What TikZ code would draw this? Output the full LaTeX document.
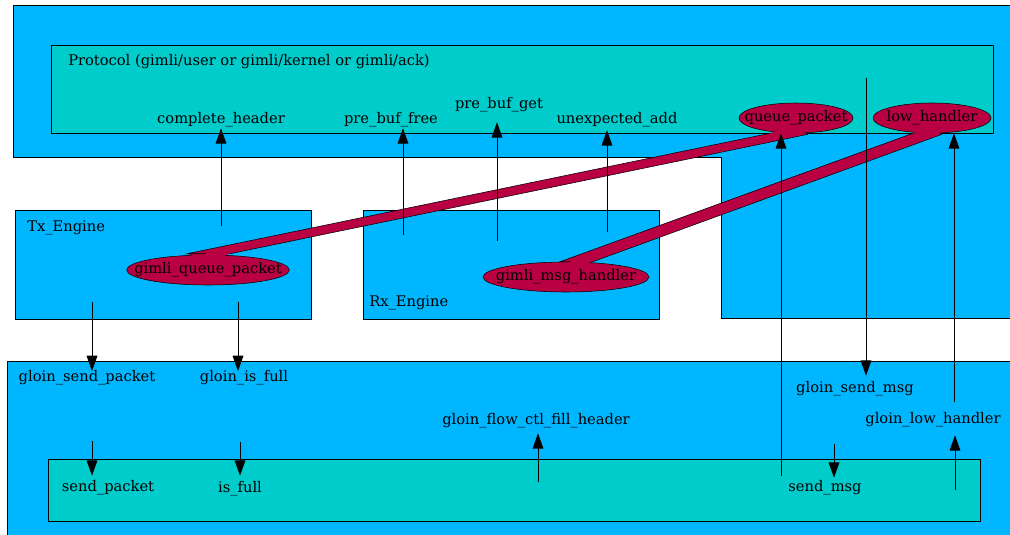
\documentclass[tikz,border=0pt]{standalone}
\usepackage{fontspec}
\setmainfont{DejaVu Serif}
\usetikzlibrary{arrows.meta,shapes.geometric,calc}
\definecolor{skyfill}{RGB}{0,183,255}
\definecolor{tealfill}{RGB}{0,204,204}
\definecolor{funcfill}{RGB}{184,0,66}
\newcommand{\fname}[1]{\makebox[0pt]{#1}}
\begin{document}
\begin{tikzpicture}[x=0.75pt,y=-0.75pt,
  lbl/.style={font=\fontsize{11}{13}\selectfont, inner sep=0pt, text height=7.5pt, text depth=2.5pt},
  func/.style={ellipse, draw=black, fill=funcfill, inner sep=0pt, minimum height=22.5pt, font=\fontsize{11}{13}\selectfont},
  arr/.style={-{Triangle[length=11.5pt,width=8pt]}, line width=0.75pt},
  boxline/.style={draw=black, line width=0.75pt}]
\useasboundingbox (0,0) rectangle (1010,535);
% containers
\draw [boxline, fill=skyfill] (13,6) -- (1014,6) -- (1014,318) -- (721,318) -- (721,157) -- (13,157) -- cycle;
\draw [boxline, fill=tealfill] (51,46) rectangle (993,133);
\draw [boxline, fill=skyfill] (15,210) rectangle (311,319);
\draw [boxline, fill=skyfill] (363,210) rectangle (659,319);
\draw [boxline, fill=skyfill] (7,361) rectangle (1014,540);
\draw [boxline, fill=tealfill] (48,459) rectangle (980,521);
\node [lbl, anchor=west] (proto) at (68,62) {Protocol (gimli/user or gimli/kernel or gimli/ack)};
\node [lbl, anchor=west] (tx) at (27,228) {Tx\_Engine};
\node [lbl, anchor=west] (rx) at (369,303) {Rx\_Engine};
% functions
\node [func, minimum width=85.5pt] (qp) at (796,118) {\fname{queue\_packet}};
\node [func, minimum width=88.5pt] (lh) at (932,118) {\fname{low\_handler}};
\node [func, minimum width=122pt] (gqp) at (208,270) {\fname{gimli\_queue\_packet}};
\node [func, minimum width=124.5pt] (gmh) at (566,277) {\fname{gimli\_msg\_handler}};
% wide links
\fill [funcfill] ($(gqp.north)+(-21,-1)$) -- ($(qp.south)+(-26,0)$) -- ($(qp.south)+(-6,-7)$) -- ($(qp.south)+(12,1)$) -- ($(gqp.north)+(22,-1)$) -- ($(gqp.north)+(0,7)$) -- cycle;
\draw ($(gqp.north)+(-2,-1)$) -- ($(gqp.north)+(-21,-1)$) -- ($(qp.south)+(-26,0)$);
\draw ($(gqp.north)+(22,-1)$) -- ($(qp.south)+(12,1)$);
\fill [funcfill] ($(gmh.north)+(-6,0)$) -- ($(lh.south)+(-19,0)$) -- ($(lh.south)+(-4,-7)$) -- ($(lh.south)+(10,1)$) -- ($(gmh.north)+(24,1)$) -- ($(gmh.north)+(6,7)$) -- cycle;
\draw ($(gmh.north)+(4,0)$) -- ($(gmh.north)+(-6,0)$) -- ($(lh.south)+(-19,0)$);
\draw ($(gmh.north)+(24,1)$) -- ($(lh.south)+(10,1)$);
% labels
\node [lbl, minimum height=12pt] (ch) at (221,120) {complete\_header};
\node [lbl, minimum height=12pt] (pbf) at (391,120) {pre\_buf\_free};
\node [lbl, minimum height=25.5pt] (pbg) at (499,105) {pre\_buf\_get};
\node [lbl, minimum height=15pt] (ua) at (617,120) {unexpected\_add};
\node [lbl] (gsp) at (87,378) {gloin\_send\_packet};
\node [lbl] (gif) at (244,378) {gloin\_is\_full};
\node [lbl, minimum height=18pt] (gfc) at (536,421) {gloin\_flow\_ctl\_fill\_header};
\node [lbl, minimum height=19.5pt] (gsm) at (855,389) {gloin\_send\_msg};
\node [lbl, minimum height=22.5pt] (glh) at (933,420) {gloin\_low\_handler};
\node [lbl, minimum height=18pt] (sp) at (108,488) {send\_packet};
\node [lbl, minimum height=19.5pt] (isf) at (240,489) {is\_full};
\node [lbl, minimum height=15pt] (sm) at (825,488) {send\_msg};
% free ends
\coordinate (chS) at (221,226);
\coordinate (pbfS) at (403,235);
\coordinate (pbgS) at (497,241);
\coordinate (uaS) at (607,232);
\coordinate (qpS) at (781,476);
\coordinate (gsmS) at (866,78);
\coordinate (lhS) at (954,402);
\coordinate (gspS) at (92,302);
\coordinate (gifS) at (238,302);
\coordinate (spS) at (92,441);
\coordinate (isfS) at (240,442);
\coordinate (gfcS) at (538,482);
\coordinate (smS) at (834,444);
\coordinate (glhS) at (955,490);
% calls
\draw [arr] (chS) -- (chS |- ch.south);
\draw [arr] (pbfS) -- (pbfS |- pbf.south);
\draw [arr] (pbgS) -- (pbgS |- pbg.south);
\draw [arr] (uaS) -- (uaS |- ua.south);
\draw [arr] (qpS) -- (qpS |- qp.south);
\draw [arr] (gsmS) -- (gsmS |- gsm.north);
\draw [arr] (lhS) -- (lhS |- lh.south);
\draw [arr] (gspS) -- (gspS |- gsp.north);
\draw [arr] (gifS) -- (gifS |- gif.north);
\draw [arr] (spS) -- (spS |- sp.north);
\draw [arr] (isfS) -- (isfS |- isf.north);
\draw [arr] (gfcS) -- (gfcS |- gfc.south);
\draw [arr] (smS) -- (smS |- sm.north);
\draw [arr] (glhS) -- (glhS |- glh.south);
\end{tikzpicture}
\end{document}
